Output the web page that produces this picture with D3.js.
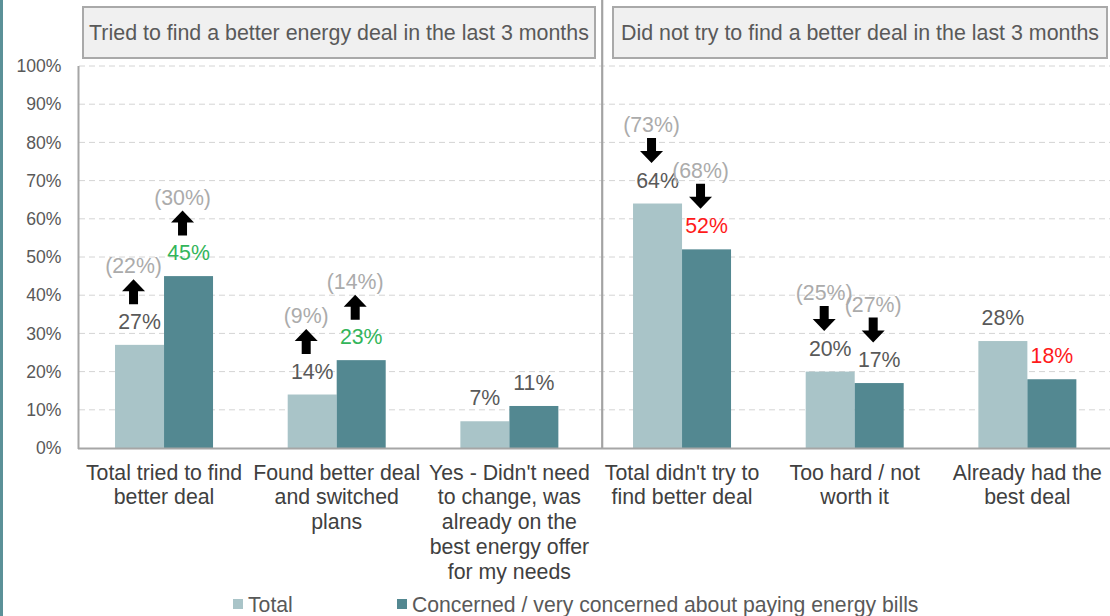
<!DOCTYPE html>
<html><head><meta charset="utf-8">
<script src="https://cdnjs.cloudflare.com/ajax/libs/d3/7.8.5/d3.min.js"></script>
<style>
html,body{margin:0;padding:0;background:#fff;}
svg{display:block;font-family:"Liberation Sans",Arial,sans-serif;}
</style></head>
<body><svg id="chart" width="1110" height="616"></svg>
<script>
// ---- data ----
const categories = ["Total tried to find better deal","Found better deal and switched plans","Yes - Didn't need to change, was already on the best energy offer for my needs","Total didn't try to find better deal","Too hard / not worth it","Already had the best deal"];
const categoryLines = [
  ["Total tried to find","better deal"],
  ["Found better deal","and switched","plans"],
  ["Yes - Didn't need","to change, was","already on the","best energy offer","for my needs"],
  ["Total didn't try to","find better deal"],
  ["Too hard / not","worth it"],
  ["Already had the","best deal"]
];
const seriesNames = ["Total","Concerned / very concerned about paying energy bills"];
const totalValues = [27,14,7,64,20,28];
const concernedValues = [45,23,11,52,17,18];
const previousTotal = [22,9,null,73,25,null];
const previousConcerned = [30,14,null,68,27,null];
// label highlight: "up" = green, "down" = red, "" = neutral
const totalHighlight = ["","","","","",""];
const concernedHighlight = ["up","up","","down","","down"];
const yTicks = [0,10,20,30,40,50,60,70,80,90,100];
const panelTitles = ["Tried to find a better energy deal in the last 3 months","Did not try to find a better deal in the last 3 months"];
const panelCategoryCount = [3,3];

// ---- styles / layout ----
const colTotal = "#a9c4c8", colConc = "#538891";
const textDark = "#595959", textPrev = "#ababab";
const colUp = "#33b55a", colDown = "#ff1a1a";
const svg = d3.select("#chart");

const y = d3.scaleLinear().domain([0,100]).range([448,66]);
const x0 = d3.scaleBand().domain(categories).range([77.7,1113.7]).paddingInner(0).paddingOuter(0);
const x1 = d3.scaleBand().domain(["total","concerned"]).range([0,x0.bandwidth()]).paddingInner(0).paddingOuter(0.762);

// left teal edge
svg.append("rect").attr("x",0).attr("y",0).attr("width",3).attr("height",616).attr("fill","#5b9198");

// gridlines
svg.append("g").selectAll("line").data(yTicks.filter(d=>d>0)).join("line")
  .attr("x1",79).attr("x2",1110).attr("y1",d=>y(d)).attr("y2",d=>y(d))
  .attr("stroke","#d4d4d4").attr("stroke-width",1).attr("stroke-dasharray","6,4");

// y axis
const yAxis = d3.axisLeft(y).tickValues(yTicks).tickFormat(d=>d+"%").tickSize(0).tickPadding(17);
const gy = svg.append("g").attr("transform","translate(78.5,0)").call(yAxis);
gy.select(".domain").remove();
gy.selectAll("text").attr("fill",textDark).style("font-size","17.6px").style("font-family","Liberation Sans, Arial, sans-serif");
svg.append("line").attr("x1",78.5).attr("x2",78.5).attr("y1",y(100)).attr("y2",y(0)+1).attr("stroke","#a6a6a6").attr("stroke-width",2);

// panel divider
const divX = x0(categories[panelCategoryCount[0]]) + 6.5;
svg.append("line").attr("x1",divX).attr("x2",divX).attr("y1",0).attr("y2",y(0)).attr("stroke","#a3a3a3").attr("stroke-width",2.2);

// panel header boxes
const boxes = [{x:83,w:512,t:panelTitles[0]},{x:613,w:494,t:panelTitles[1]}];
boxes.forEach(b=>{
  svg.append("rect").attr("x",b.x+1).attr("y",8).attr("width",b.w).attr("height",51).attr("fill","#e0e0e0");
  svg.append("rect").attr("x",b.x).attr("y",7).attr("width",b.w).attr("height",51)
    .attr("fill","#f0f0f0").attr("stroke","#a9a9a9").attr("stroke-width",2);
  svg.append("text").attr("x",b.x+b.w/2).attr("y",40).attr("text-anchor","middle")
    .attr("fill",textDark).style("font-size","21.4px").text(b.t);
});

// bars
const rows = categories.map((c,i)=>({c,i,total:totalValues[i],conc:concernedValues[i]}));
const gBars = svg.append("g");
rows.forEach(r=>{
  [["total",r.total,colTotal],["concerned",r.conc,colConc]].forEach(([k,v,col])=>{
    gBars.append("rect").attr("x",x0(r.c)+x1(k)).attr("y",y(v))
      .attr("width",x1.bandwidth()).attr("height",y(0)-y(v)).attr("fill",col);
  });
});

// baseline
svg.append("line").attr("x1",78).attr("x2",1110).attr("y1",y(0)+0.5).attr("y2",y(0)+0.5).attr("stroke","#a6a6a6").attr("stroke-width",2);

// arrows
function arrow(g,cx,cy,up){
  const hw=11.5, sw=4.5, hh=12, total=25;
  const top=cy-total/2, bot=cy+total/2;
  let pts;
  if(up){
    pts=[[cx,top],[cx+hw,top+hh],[cx+sw,top+hh],[cx+sw,bot],[cx-sw,bot],[cx-sw,top+hh],[cx-hw,top+hh]];
  } else {
    pts=[[cx,bot],[cx+hw,bot-hh],[cx+sw,bot-hh],[cx+sw,top],[cx-sw,top],[cx-sw,bot-hh],[cx-hw,bot-hh]];
  }
  g.append("polygon").attr("points",pts.map(p=>p.join(",")).join(" ")).attr("fill","#000");
}

// value labels
const gLab = svg.append("g").style("font-size","21.3px");
function labelColor(h){return h==="up"?colUp:(h==="down"?colDown:textDark);}
rows.forEach(r=>{
  const items=[["total",r.total,previousTotal[r.i],totalHighlight[r.i]],["concerned",r.conc,previousConcerned[r.i],concernedHighlight[r.i]]];
  items.forEach(([k,v,prev,hl])=>{
    const cx = x0(r.c)+x1(k)+x1.bandwidth()/2;
    const top = y(v);
    gLab.append("text").attr("x",cx).attr("y",top-16).attr("text-anchor","middle")
      .attr("fill",labelColor(hl)).text(v+"%");
    if(prev!==null){
      arrow(gLab,cx-6,top-53,v>prev);
      gLab.append("text").attr("x",cx-6).attr("y",top-71.5).attr("text-anchor","middle")
        .attr("fill",textPrev).text("("+prev+"%)");
    }
  });
});

// category labels
const gCat = svg.append("g").style("font-size","21.3px").attr("fill","#404040");
rows.forEach(r=>{
  const t = gCat.append("text").attr("text-anchor","middle");
  categoryLines[r.i].forEach((line,j)=>{
    t.append("tspan").attr("x",x0(r.c)+x0.bandwidth()/2).attr("y",479.5+j*24.8).text(line);
  });
});

// legend
const lg = svg.append("g").style("font-size","21.2px");
const legendX=[233,397];
seriesNames.forEach((n,i)=>{
  lg.append("rect").attr("x",legendX[i]).attr("y",599).attr("width",10).attr("height",10).attr("fill",i===0?colTotal:colConc);
  lg.append("text").attr("x",legendX[i]+15).attr("y",611.5).attr("fill",textDark).text(n);
});
</script>
</body></html>
